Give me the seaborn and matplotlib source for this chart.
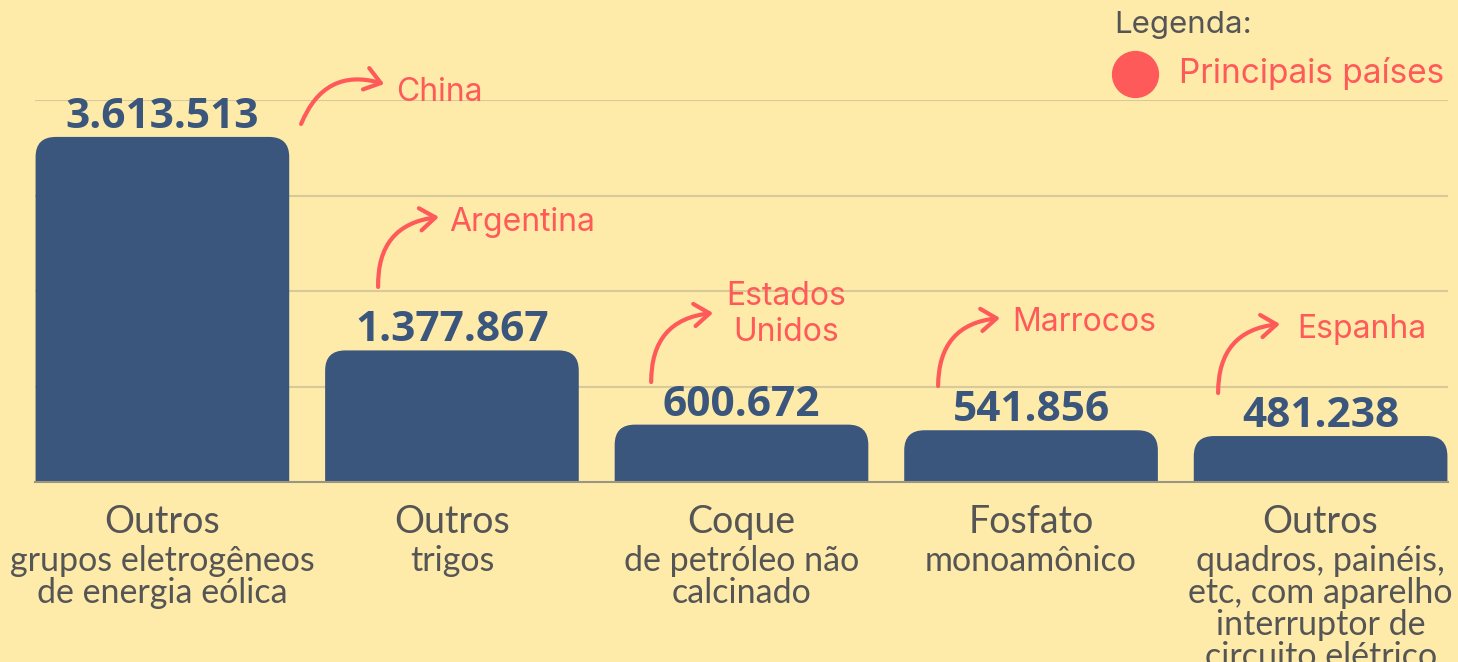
import pandas as pd
import seaborn as sns
import matplotlib.pyplot as plt
from matplotlib.patches import FancyBboxPatch

# Data
produtos = ['Outros grupos eletrogêneos', 'Outros trigos', 'Coque de petróleo',
            'Fosfato monoamônico', 'Outros quadros, painéis']
valores = [3613513, 1377867, 600672, 541856, 481238]
rotulos_valor = ['3.613.513', '1.377.867', '600.672', '541.856', '481.238']
titulo_cat = ['Outros', 'Outros', 'Coque', 'Fosfato', 'Outros']
sub_cat = ['grupos eletrogêneos\nde energia eólica', 'trigos',
           'de petróleo não\ncalcinado', 'monoamônico',
           'quadros, painéis,\netc, com aparelho\ninterruptor de\ncircuito elétrico']
paises = ['China', 'Argentina', 'Estados\nUnidos', 'Marrocos', 'Espanha']

BG = '#FEEBAA'
BLUE = '#3A567D'
RED = '#FF5A5A'
GRAY = '#555555'

df = pd.DataFrame({'produto': produtos, 'valor': valores})

sns.set_style('white')
plt.rcParams['font.family'] = ['Lato', 'DejaVu Sans']

fig = plt.figure(figsize=(14.58, 6.62), dpi=100, facecolor=BG)
ax = fig.add_axes([35 / 1458, 180 / 662, 1413 / 1458, 382 / 662])
ax.set_facecolor(BG)

sns.barplot(data=df, x='produto', y='valor', color=BLUE, saturation=1,
            width=0.876, ax=ax, zorder=2)
ax.set_xlim(-0.44, 4.44)
ax.set_ylim(0, 4000000)

# replace plain bars with top-rounded ones
rx = 0.07
ry = 210000
for p in list(ax.patches):
    x, w, h = p.get_x(), p.get_width(), p.get_height()
    fb = FancyBboxPatch((x, -ry), w, h + ry,
                        boxstyle=f'round,pad=0,rounding_size={rx}',
                        mutation_aspect=ry / rx, facecolor=BLUE,
                        edgecolor='none', zorder=2)
    p.remove()
    ax.add_patch(fb)

ax.set_yticks([1000000, 2000000, 3000000, 4000000])
ax.yaxis.grid(True, color='#D8CA98', linewidth=1.5)
ax.set_axisbelow(True)
ax.tick_params(left=False, bottom=False, labelleft=False, labelbottom=False)
ax.set_xlabel('')
ax.set_ylabel('')
for s in ['top', 'right', 'left']:
    ax.spines[s].set_visible(False)
ax.spines['bottom'].set_color('#9A9682')
ax.spines['bottom'].set_linewidth(1.5)
ax.spines['bottom'].set_zorder(3)

# value labels
for i, (v, t) in enumerate(zip(valores, rotulos_valor)):
    ax.annotate(t, (i, v), xytext=(0, 6.5), textcoords='offset points',
                ha='center', va='baseline', fontsize=30.5, fontweight='bold',
                color=BLUE, family=['Open Sans', 'DejaVu Sans'],
                annotation_clip=False)

# category labels
for i in range(len(produtos)):
    ax.text(i, -420000, titulo_cat[i], ha='center', va='center',
            fontsize=27, color=GRAY, clip_on=False)
    ax.text(i, -655000, sub_cat[i], ha='center', va='top', fontsize=24.5,
            color=GRAY, linespacing=1.0, clip_on=False)

# country arrows
seta_ini = [(0.479, 3749000), (0.745, 2042000), (1.688, 1047000),
            (2.679, 1005000), (3.646, 932000)]
seta_fim = [(0.766, 4167000), (0.955, 2775000), (1.902, 1770000),
            (2.893, 1717000), (3.860, 1654000)]
texto_pos = [(0.807, 4080000), (0.990, 2720000), (2.154, 1750000),
             (2.935, 1675000), (3.919, 1602000)]
for i, nome in enumerate(paises):
    ax.annotate('', xy=seta_fim[i], xytext=seta_ini[i], annotation_clip=False,
                arrowprops=dict(arrowstyle='->,head_length=0.55,head_width=0.4',
                                connectionstyle='arc3,rad=-0.45', color=RED,
                                lw=3, shrinkA=0, shrinkB=0, mutation_scale=20))
    ha = 'center' if '\n' in nome else 'left'
    ax.text(texto_pos[i][0], texto_pos[i][1], nome, ha=ha, va='center',
            fontsize=23, color=RED, linespacing=1.2, clip_on=False,
            family=['Inter', 'DejaVu Sans'])

# legend
fig.text(1114 / 1458, 1 - 25 / 662, 'Legenda:', ha='left', va='center',
         fontsize=22.5, color=GRAY, family=['Inter', 'DejaVu Sans'])
ax.scatter([1135 / 1458], [1 - 74 / 662], s=1090, color=RED,
           transform=fig.transFigure, clip_on=False, zorder=5)
fig.text(1179 / 1458, 1 - 74 / 662, 'Principais países', ha='left',
         va='center', fontsize=24, color=RED, family=['Inter', 'DejaVu Sans'])

plt.savefig('out.png', dpi=100, facecolor=BG)
